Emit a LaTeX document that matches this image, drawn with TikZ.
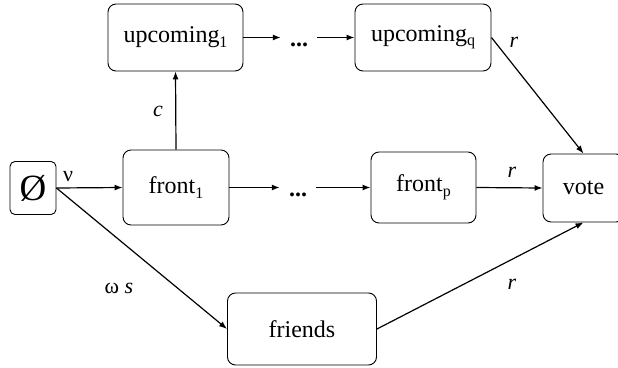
\documentclass[tikz,border=0pt]{standalone}
\usepackage{fontspec}
\setmainfont{Liberation Serif}
\usetikzlibrary{arrows.meta}
\newcommand{\mysub}[1]{\raisebox{-4.5pt}{\fontsize{16}{16}\selectfont #1}}
\begin{document}
\begin{tikzpicture}[x=1pt,y=-1pt,
  box/.style={draw, line width=0.9pt, rounded corners=8pt, inner sep=0pt,
    font=\fontsize{24}{28}\selectfont},
  dotsnode/.style={inner sep=0pt, minimum width=36pt, text height=18pt, text depth=0pt,
    font=\fontsize{24}{28}\selectfont\bfseries},
  conn/.style={line width=1.2pt, -{Latex[length=8pt,width=6pt]}},
  lab/.style={font=\fontsize{22}{26}\selectfont, inner sep=0pt}]
\useasboundingbox (0,0) rectangle (618,367);
\begin{scope}
\clip (0,0) rectangle (618,367);
\node[box, minimum width=46pt, minimum height=53pt, font=\fontsize{37}{40}\selectfont, rounded corners=5pt] (empty) at (33,188) {Ø};
\node[box, minimum width=106pt, minimum height=75pt] (front1) at (176,187.5) {front\mysub{1}};
\node[box, minimum width=135pt, minimum height=67pt] (up1) at (175.5,37.5) {upcoming\mysub{1}};
\node[box, minimum width=136pt, minimum height=67pt] (upq) at (423,37.5) {upcoming\mysub{q}};
\node[box, minimum width=105pt, minimum height=71pt] (frontp) at (423.5,187.5) {front\mysub{p}};
\node[box, minimum width=81pt, minimum height=68pt] (vote) at (583.5,188) {vote};
\node[box, minimum width=149pt, minimum height=72pt] (friends) at (302,329) {friends};
\node[dotsnode] (dotsf) at (298,187.5) {...};
\node[dotsnode] (dotsu) at (299,37.5) {...};
\end{scope}
\draw[conn] (empty.east) -- (front1.west);
\draw[conn] (front1.east) -- (dotsf.west);
\draw[conn] (dotsf.east) -- (frontp.west);
\draw[conn] (up1.east) -- (dotsu.west);
\draw[conn] (dotsu.east) -- (upq.west);
\draw[conn] (front1.north) -- (up1.south);
\draw[conn] (upq.east) -- (vote.north);
\draw[conn] (frontp.east) -- (vote.west);
\draw[conn] (empty.east) -- (friends.west);
\draw[conn] (friends.east) -- (vote.south);
\node[lab] (lnu) at (68,177) {ν};
\node[lab] (lc) at (158,111) {\itshape c};
\node[lab] (lr1) at (514,42) {\itshape r};
\node[lab] (lr2) at (512,172) {\itshape r};
\node[lab] (lr3) at (512,284) {\itshape r};
\node[lab] (lws) at (119,288) {ω \itshape s};
\end{tikzpicture}
\end{document}
